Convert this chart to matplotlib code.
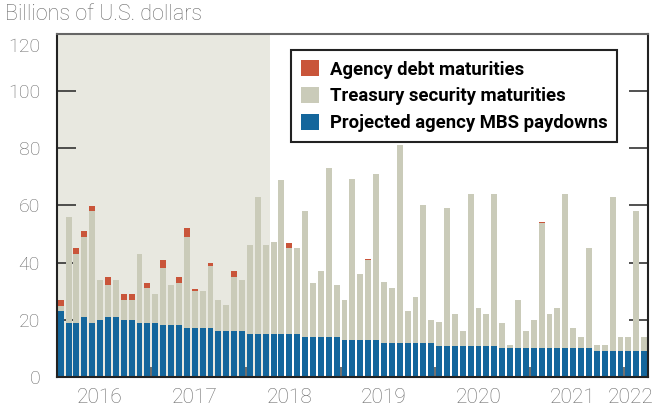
# Fed balance sheet runoff: projected monthly paydowns and maturities
import numpy as np
import matplotlib.pyplot as plt
import matplotlib.transforms as mtransforms
import pandas as pd

plt.rcParams['font.family'] = ['Roboto', 'DejaVu Sans']

# Monthly data, Jan 2016 - Mar 2022 (billions of U.S. dollars)
months = pd.date_range('2016-01-01', periods=75, freq='MS')
mbs = [23.0, 18.9, 18.9, 21.0, 18.9, 19.9, 21.0, 21.0, 19.9, 19.9, 18.9, 18.9,
       18.9, 18.2, 18.2, 18.2, 17.1, 17.1, 17.1, 17.1, 16.0, 16.0, 16.0, 16.0,
       15.0, 15.0, 15.0, 15.0, 15.0, 15.0, 15.0, 14.0, 14.0, 14.0, 14.0, 14.0,
       12.9, 12.9, 12.9, 12.9, 12.9, 11.9, 11.9, 11.9, 11.9, 11.9, 11.9, 11.9,
       10.8, 10.8, 10.8, 10.8, 10.8, 10.8, 10.8, 10.8, 10.1, 10.1, 10.1, 10.1,
       10.1, 10.1, 10.1, 10.1, 10.1, 10.1, 10.1, 10.1, 9.1, 9.1, 9.1, 9.1,
       9.1, 9.1, 9.1]
treasury = [1.8, 36.9, 24.1, 27.9, 39.1, 14.0, 11.1, 12.9, 7.0, 7.0, 24.1, 12.2,
            10.1, 19.9, 13.9, 14.6, 31.8, 12.9, 12.9, 21.7, 10.9, 9.0, 18.9, 17.9,
            31.1, 47.9, 31.1, 32.2, 53.8, 30.1, 30.1, 44.0, 18.8, 23.0, 59.0, 18.1,
            14.0, 56.3, 23.1, 28.1, 58.0, 21.3, 19.2, 69.2, 11.1, 16.0, 48.2, 8.0,
            8.3, 48.2, 11.2, 5.3, 53.1, 13.3, 11.2, 53.1, 8.8, 1.0, 16.7, 6.0,
            9.8, 43.9, 11.9, 14.0, 53.8, 7.0, 3.9, 35.0, 2.0, 2.0, 53.8, 4.9,
            4.9, 48.9, 4.9]
agency = [2.1, 0.1, 2.1, 2.1, 1.7, 0.0, 2.8, 0.0, 2.1, 2.1, 0.0, 1.7,
          0.0, 2.8, 0.0, 2.1, 3.2, 0.7, 0.0, 1.0, 0.0, 0.1, 2.1, 0.0,
          0.1, 0.0, 0.1, 0.1, 0.0, 1.7, 0.0, 0.0, 0.1, 0.0, 0.0, 0.0,
          0.0, 0.0, 0.0, 0.1, 0.0, 0.0, 0.0, 0.0, 0.0, 0.0, 0.0, 0.0,
          0.1, 0.0, 0.0, 0.0, 0.0, 0.0, 0.0, 0.0, 0.1, 0.1, 0.0, 0.0,
          0.0, 0.1, 0.0, 0.0, 0.0, 0.0, 0.0, 0.0, 0.1, 0.1, 0.0, 0.0,
          0.0, 0.0, 0.0]
years = ['2016', '2017', '2018', '2019', '2020', '2021', '2022']
n_shaded = 27  # months through Mar 2018

blue = '#14669c'
gray = '#cacbb9'
orange = '#c9553a'

x = np.arange(len(months))
mbs = np.array(mbs)
treasury = np.array(treasury)
agency = np.array(agency)

fig = plt.figure(figsize=(6.55, 4.08), dpi=100)
ax = fig.add_axes([0.0866, 0.0762, 0.9028, 0.8405])

ax.axvspan(-0.5, n_shaded - 0.5, color='#e8e8e0', zorder=0, lw=0)
ax.bar(x, mbs, width=0.75, color=blue, label='Projected agency MBS paydowns', zorder=2)
ax.bar(x, treasury, width=0.75, bottom=mbs, color=gray,
       label='Treasury security maturities', zorder=2)
ax.bar(x, agency, width=0.75, bottom=mbs + treasury, color=orange,
       label='Agency debt maturities', zorder=2)

ax.set_xlim(-0.5, len(months) - 0.5)
ax.set_ylim(0, 120)

# year boundaries as ticks, labels in the middle of each year
first_jan = [i for i, m in enumerate(months) if m.month == 1]
ax.set_xticks([i - 0.5 for i in first_jan[1:]])
ax.set_xticklabels([])
ax.tick_params(axis='x', which='major', direction='in', length=7, width=1.2,
               color='#555555')
label_pos = [i + 5 for i in first_jan[:-1]] + [first_jan[-1] + 0.3]
ax.set_xticks(label_pos, minor=True)
ax.set_xticklabels(years, minor=True)
ax.tick_params(axis='x', which='minor', length=0, pad=8, labelsize=15,
               labelcolor='#6a6a6a')
for lab in ax.get_xticklabels(minor=True):
    lab.set_fontweight('light')

ax.set_yticks(np.arange(0, 121, 20))
ax.tick_params(axis='y', direction='in', length=14, width=1.2, color='#333333',
               left=True, right=True, labelsize=14, labelcolor='#6a6a6a', pad=12)
for lab in ax.get_yticklabels():
    lab.set_fontweight('light')
# nudge the top label below the title
top_lab = ax.get_yticklabels()[-1]
top_lab.set_transform(top_lab.get_transform() +
                      mtransforms.ScaledTranslation(0, -11 / 100, fig.dpi_scale_trans))

for side in ['left', 'right', 'bottom']:
    ax.spines[side].set_color('#222222')
    ax.spines[side].set_linewidth(1.5)
ax.spines['top'].set_color('#666666')
ax.spines['top'].set_linewidth(1.5)

fig.text(0.008, 0.99, 'Billions of U.S. dollars', va='top', ha='left',
         fontsize=15.5, color='#6a6a6a', fontweight='light')

handles, labels = ax.get_legend_handles_labels()
leg = ax.legend(handles[::-1], labels[::-1], loc='upper left',
                bbox_to_anchor=(0.444, 0.877), bbox_transform=fig.transFigure,
                prop={'weight': 'bold', 'size': 13.3}, handlelength=0.95,
                handleheight=0.95, handletextpad=0.6, labelspacing=0.45,
                borderpad=0.55, fancybox=False, framealpha=1, borderaxespad=0)
leg.get_frame().set_edgecolor('#222222')
leg.get_frame().set_linewidth(1.5)

plt.savefig('out.png', dpi=100)
